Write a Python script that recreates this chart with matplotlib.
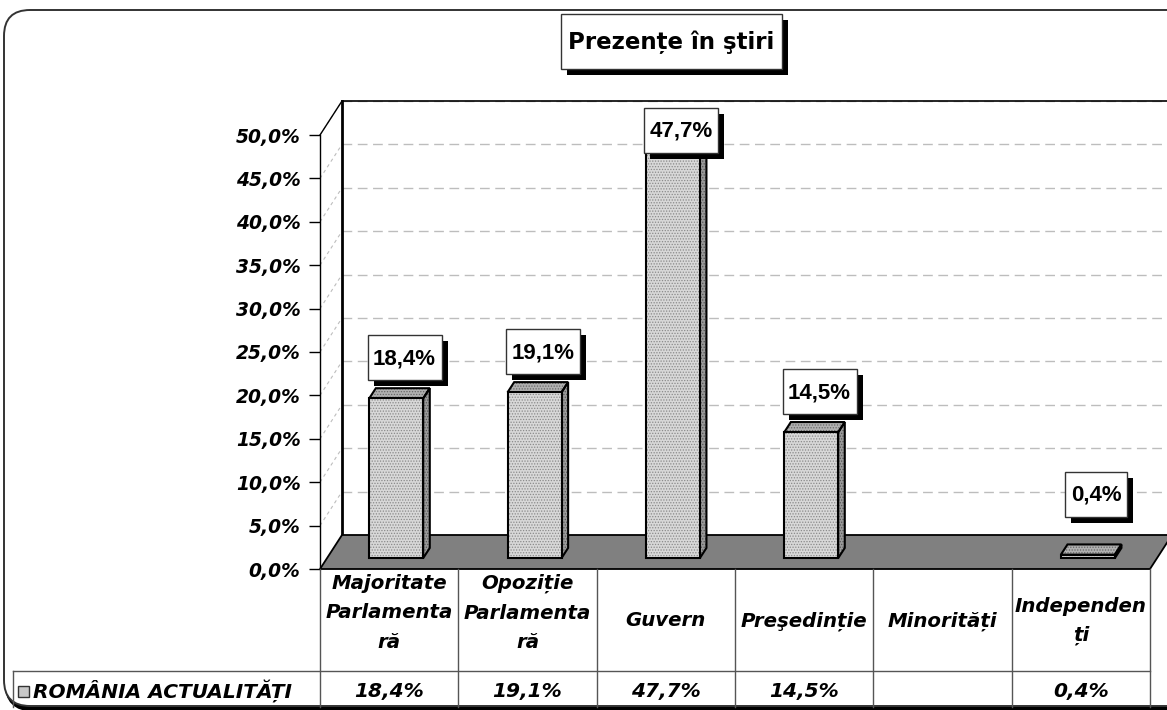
import matplotlib
matplotlib.use("Agg")
import matplotlib.pyplot as plt
import numpy as np
from matplotlib.patches import Polygon, Rectangle, FancyBboxPatch
from matplotlib import font_manager as fm

# ---------------- data ----------------
title = "Prezențe în ştiri"
categories = ["Majoritate\nParlamenta\nră", "Opoziție\nParlamenta\nră", "Guvern",
              "Preşedinție", "Minorități", "Independen\nți"]
values = [18.4, 19.1, 47.7, 14.5, None, 0.4]
series_name = "ROMÂNIA ACTUALITĂȚI"
yticks = [0, 5, 10, 15, 20, 25, 30, 35, 40, 45, 50]

def fmt(v):
    return ("%.1f%%" % v).replace(".", ",")

plt.rcParams["hatch.linewidth"] = 0.6

# pick a regular-width (non narrow) Arial-like bold font for the value boxes
label_fp = None
for f in fm.fontManager.ttflist:
    if f.name == "Liberation Sans" and "narrow" not in f.fname.lower() \
            and f.style == "normal" and f.weight in (700, "bold"):
        label_fp = fm.FontProperties(fname=f.fname, size=16)
        break
if label_fp is None:
    label_fp = fm.FontProperties(family="DejaVu Sans", weight="bold", size=13.5)

# ---------------- layout ----------------
W, H = 1167, 710
fig = plt.figure(figsize=(W / 100, H / 100), dpi=100)
bg = fig.add_axes([0, 0, 1, 1])
bg.set_xlim(0, W)
bg.set_ylim(H, 0)
bg.axis("off")

X0, X1 = 320, 1150       # front floor edge (pixels)
Y0, Y50 = 569, 135       # 0% and 50% on front axis (pixels)
ax = fig.add_axes([X0 / W, (H - Y0) / H, (X1 - X0) / W, (Y0 - Y50) / H])
n = len(categories)
ax.set_xlim(-0.5, n - 0.5)
ax.set_ylim(0, 50)
ax.patch.set_visible(False)
for s in ["top", "right", "bottom"]:
    ax.spines[s].set_visible(False)
ax.spines["left"].set_linewidth(1.0)
ax.set_xticks([])

ov = fig.add_axes([0, 0, 1, 1])
ov.set_xlim(0, W)
ov.set_ylim(H, 0)
ov.axis("off")
ov.patch.set_visible(False)

pxx = (X1 - X0) / n
pxy = (Y0 - Y50) / 50.0
DX, DY = 22.0, 34.0   # full depth offset in pixels

def dep(d):
    return d * DX / pxx, d * DY / pxy

bx, by = dep(1.0)
far = n - 0.5 + 1.0

FONT_B = "DejaVu Sans"

# frame
shadow = FancyBboxPatch((7, 13), 1200, 696, boxstyle="round,pad=0,rounding_size=26",
                        fc="none", ec="black", lw=3.5, zorder=0)
bg.add_patch(shadow)
frame = FancyBboxPatch((4, 10), 1200, 696, boxstyle="round,pad=0,rounding_size=26",
                       fc="white", ec="#333333", lw=1.4, zorder=0.5)
bg.add_patch(frame)

# back wall
ax.add_patch(Polygon([(-0.5 + bx, by), (-0.5 + bx, 50 + by), (far, 50 + by), (far, by)],
                     closed=True, fc="white", ec="none", zorder=1, clip_on=False))
# side wall
ax.add_patch(Polygon([(-0.5, 0), (-0.5, 50), (-0.5 + bx, 50 + by), (-0.5 + bx, by)],
                     closed=True, fc="white", ec="none", zorder=1, clip_on=False))
# gridlines
for t in yticks[1:]:
    ax.plot([-0.5 + bx, far], [t + by, t + by], color="#bdbdbd", lw=1.0,
            ls=(0, (7, 4)), zorder=1.5, clip_on=False)
    ax.plot([-0.5, -0.5 + bx], [t, t + by], color="#bdbdbd", lw=0.8,
            ls=(0, (3, 3)), zorder=1.5, clip_on=False)
# wall borders
ax.plot([-0.5 + bx, -0.5 + bx], [by, 50 + by], color="black", lw=2.0, zorder=2, clip_on=False)
ax.plot([-0.5 + bx, far], [50 + by, 50 + by], color="black", lw=1.2, zorder=2, clip_on=False)
ax.plot([-0.5, -0.5 + bx], [50, 50 + by], color="black", lw=1.0, zorder=2, clip_on=False)

# floor
ax.add_patch(Polygon([(-0.5, 0), (n - 0.5, 0), (n - 0.5 + bx, by), (-0.5 + bx, by)],
                     closed=True, fc="#808080", ec="black", lw=1.3, zorder=2, clip_on=False))

# bars
d0, d1 = 0.32, 0.62
fx, fy = dep(d0)
ddx, ddy = dep(d1 - d0)
bw = 0.39
xs = np.arange(n)

def face(pts, fc, hc, z):
    ax.add_patch(Polygon(pts, closed=True, fc=fc, ec="none", zorder=z, clip_on=False))
    ax.add_patch(Polygon(pts, closed=True, fc="none", ec=hc, lw=0, hatch="......",
                         zorder=z + 0.01, clip_on=False))
    ax.add_patch(Polygon(pts, closed=True, fc="none", ec="black", lw=1.5,
                         zorder=z + 0.02, clip_on=False))

for i, v in enumerate(values):
    if v is None:
        continue
    xl = xs[i] + fx - bw / 2
    xr = xs[i] + fx + bw / 2
    b = fy
    face([(xr, b), (xr, b + v), (xr + ddx, b + v + ddy), (xr + ddx, b + ddy)],
         "#9a9a9a", "#555555", 3)
    face([(xl, b + v), (xr, b + v), (xr + ddx, b + v + ddy), (xl + ddx, b + v + ddy)],
         "#b0b0b0", "#666666", 3)
    ax.bar(xs[i] + fx, v, width=bw, bottom=b, color="#d8d8d8", edgecolor="#8a8a8a",
           lw=0, hatch="......", zorder=3.2, clip_on=False)
    ax.bar(xs[i] + fx, v, width=bw, bottom=b, fill=False, edgecolor="black",
           lw=1.5, zorder=3.3, clip_on=False)

# ticks
ax.set_yticks(yticks)
ax.set_yticklabels([fmt(t) for t in yticks])
ax.tick_params(axis="y", length=8, width=1.0, pad=6, direction="out")
for lab in ax.get_yticklabels():
    lab.set_fontfamily(FONT_B)
    lab.set_fontweight("bold")
    lab.set_fontstyle("oblique")
    lab.set_fontsize(13.4)

# data labels (boxes with shadow)
fig.canvas.draw()
renderer = fig.canvas.get_renderer()
floor_back_y = H - ax.transData.transform((0, by))[1]
for i, v in enumerate(values):
    if v is None:
        continue
    cx_d = xs[i] + fx + ddx / 2
    top_d = fy + v + ddy
    px, py = ax.transData.transform((cx_d, top_d))
    cx = px + 5
    topback = H - py
    bottom = min(topback - 8, floor_back_y - 18)
    bh = 45
    top = max(bottom - bh, 108)
    t = ov.text(cx, top + bh / 2 + 1, fmt(v), ha="center", va="center",
                fontproperties=label_fp, zorder=11)
    ext = t.get_window_extent(renderer)
    bwid = ext.width + 11
    ov.add_patch(Rectangle((cx - bwid / 2 + 6, top + 6), bwid, bh, fc="black", ec="none", zorder=9))
    ov.add_patch(Rectangle((cx - bwid / 2, top), bwid, bh, fc="white", ec="#333333", lw=1.0, zorder=10))

# title
tb_x0, tb_y0, tb_x1, tb_y1 = 561, 14, 782, 69
ov.add_patch(Rectangle((tb_x0 + 6, tb_y0 + 6), tb_x1 - tb_x0, tb_y1 - tb_y0, fc="black", ec="none", zorder=9))
ov.add_patch(Rectangle((tb_x0, tb_y0), tb_x1 - tb_x0, tb_y1 - tb_y0, fc="white", ec="#333333", lw=1.0, zorder=10))
ov.text((tb_x0 + tb_x1) / 2, (tb_y0 + tb_y1) / 2 + 1, title, ha="center", va="center",
        fontsize=16.5, fontweight="bold", family=FONT_B, zorder=11)

# data table
row_top, row_bot = 671, 707
grid_c = "#555555"
for k in range(n + 1):
    x = X0 + k * pxx
    ov.plot([x, x], [Y0, row_bot], color=grid_c, lw=1.0, zorder=4)
ov.plot([13, X1], [row_top, row_top], color=grid_c, lw=1.0, zorder=4)
ov.plot([13, 13], [row_top, row_bot], color=grid_c, lw=1.0, zorder=4)
for k, c in enumerate(categories):
    nl = c.count("\n") + 1
    yc = (Y0 + row_top) / 2 + 1 if nl < 3 else 613
    ov.text(X0 + (k + 0.5) * pxx, yc, c, ha="center", va="center",
            fontsize=14.2, fontweight="bold", fontstyle="oblique", family=FONT_B,
            linespacing=1.7, zorder=5)
    v = values[k]
    if v is not None:
        ov.text(X0 + (k + 0.5) * pxx, 691, fmt(v), ha="center", va="center",
                fontsize=14.5, fontweight="bold", fontstyle="oblique", family=FONT_B, zorder=5)
ov.add_patch(Rectangle((18, 686), 11, 11, fc="#c8c8c8", ec="#333333", lw=1.0, zorder=5))
ov.text(33, 691, series_name, ha="left", va="center",
        fontsize=14.5, fontweight="bold", fontstyle="oblique", family=FONT_B, zorder=5)

fig.savefig("out.png", dpi=100)
